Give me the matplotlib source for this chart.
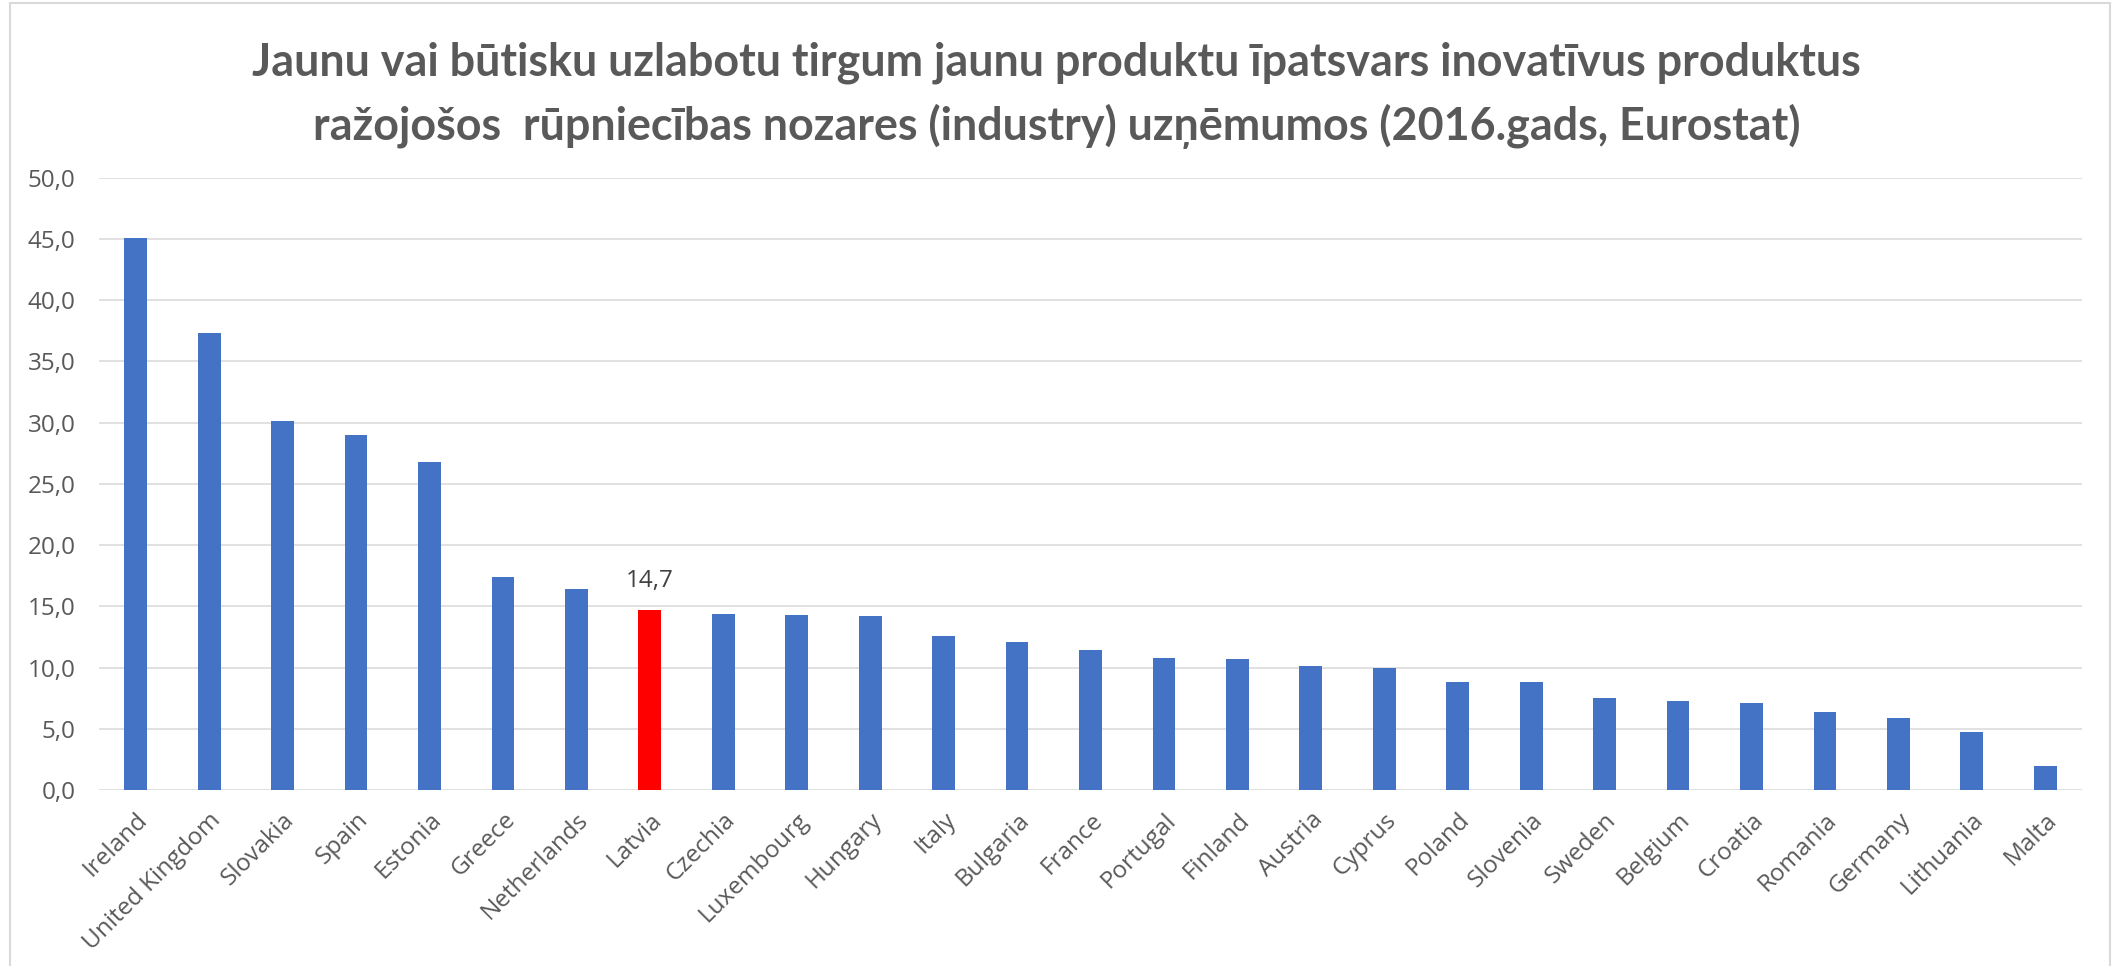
import matplotlib
matplotlib.use("Agg")
import matplotlib.pyplot as plt
from matplotlib.lines import Line2D

# data
countries = ["Ireland", "United Kingdom", "Slovakia", "Spain", "Estonia", "Greece",
             "Netherlands", "Latvia", "Czechia", "Luxembourg", "Hungary", "Italy",
             "Bulgaria", "France", "Portugal", "Finland", "Austria", "Cyprus", "Poland",
             "Slovenia", "Sweden", "Belgium", "Croatia", "Romania", "Germany",
             "Lithuania", "Malta"]
values = [45.1, 37.3, 30.1, 29.0, 26.8, 17.4, 16.4, 14.7, 14.4, 14.3, 14.2, 12.6,
          12.1, 11.4, 10.8, 10.7, 10.1, 10.0, 8.8, 8.8, 7.5, 7.3, 7.1, 6.4, 5.9,
          4.7, 2.0]
highlight = "Latvia"
yticks = [0, 5, 10, 15, 20, 25, 30, 35, 40, 45, 50]

title_1 = "Jaunu vai būtisku uzlabotu tirgum jaunu produktu īpatsvars inovatīvus produktus"
title_2 = "ražojošos  rūpniecības nozares (industry) uzņēmumos (2016.gads, Eurostat)"

W, H = 2113, 966
fig = plt.figure(figsize=(W / 100, H / 100), dpi=100)
fig.patch.set_facecolor("white")

ax = fig.add_axes([99 / W, 1 - 790 / H, (2082 - 99) / W, (790 - 177.7) / H])

colors = ["#FF0000" if c == highlight else "#4472C4" for c in countries]
x = list(range(len(countries)))
bars = ax.bar(x, values, width=0.31, color=colors, zorder=3)

ax.set_xlim(-0.5, len(countries) - 0.5)
ax.set_ylim(0, 50)
ax.set_yticks(yticks)
ax.set_yticklabels([f"{v:.1f}".replace(".", ",") for v in yticks])
ax.grid(axis="y", color="#d9d9d9", linewidth=1.1, zorder=0)
for s in ax.spines.values():
    s.set_visible(False)
lab_font = ["Open Sans", "DejaVu Sans"]
ax.tick_params(axis="both", length=0, labelsize=17.5, labelcolor="#595959")
ax.tick_params(axis="y", pad=17)
ax.tick_params(axis="x", pad=13)
ax.set_xticks(x)
ax.set_xticklabels(countries, rotation=45, ha="right", rotation_mode="anchor")
for lbl in ax.get_xticklabels() + ax.get_yticklabels():
    lbl.set_fontfamily(lab_font)

# data label for the highlighted bar
i = countries.index(highlight)
ax.annotate(f"{values[i]:.1f}".replace(".", ","), (i, values[i]),
            xytext=(0, 12), textcoords="offset points", ha="center", va="bottom",
            fontsize=17.5, color="#404040", fontfamily=lab_font)

# title, two centred lines, font size tuned to the reference width
t1 = fig.text(0.5, 1 - 75 / H, title_1, ha="center", va="baseline",
              fontsize=30, fontweight="bold", color="#595959",
              fontfamily=["Lato", "DejaVu Sans"])
t2 = fig.text(0.5, 1 - 140 / H, title_2, ha="center", va="baseline",
              fontsize=30, fontweight="bold", color="#595959",
              fontfamily=["Lato", "DejaVu Sans"])
fig.canvas.draw()
r = fig.canvas.get_renderer()
w1 = t1.get_window_extent(r).width
size = 30 * 1607 / w1
t1.set_fontsize(size)
t2.set_fontsize(size)

# light chart-area border
fig.add_artist(Line2D([10 / W, 10 / W], [0, 1 - 3 / H], color="#d9d9d9", lw=1.5))
fig.add_artist(Line2D([2110 / W, 2110 / W], [0, 1 - 3 / H], color="#d9d9d9", lw=1.5))
fig.add_artist(Line2D([10 / W, 2110 / W], [1 - 3 / H, 1 - 3 / H], color="#d9d9d9", lw=1.5))

fig.savefig("out.png", dpi=100)
